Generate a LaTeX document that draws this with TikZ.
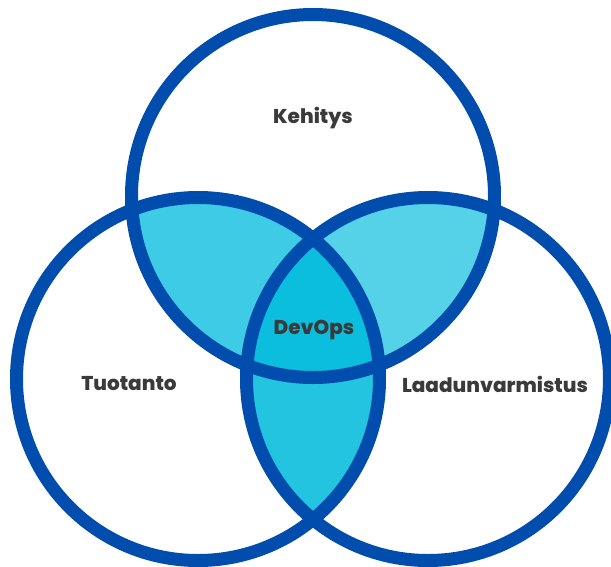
\documentclass[tikz,border=0pt]{standalone}
\usepackage{fontspec}
\setmainfont{Poppins}[BoldFont = * ExtraBold]
\definecolor{ringblue}{HTML}{004DAD}
\definecolor{lensTL}{HTML}{3ECBE5}
\definecolor{lensTR}{HTML}{56D2E8}
\definecolor{lensB}{HTML}{22C4E0}
\definecolor{core}{HTML}{0CBEDE}
\definecolor{labelgray}{HTML}{3A3A3A}
\tikzset{
  ring/.style={draw=ringblue, line width=13pt},
  setlabel/.style={text=labelgray, font=\bfseries\fontsize{20}{24}\selectfont, inner sep=0pt}
}
\begin{document}
\begin{tikzpicture}[x=1pt,y=-1pt]
\useasboundingbox (0,0) rectangle (611,566);
\fill[white] (0,0) rectangle (611,566);
% circle centres
\coordinate (ct) at (313,196);
\coordinate (cl) at (198,379);
\coordinate (cr) at (428,379);
\def\R{181.5pt}
% pairwise overlaps
\begin{scope}
  \clip (ct) circle[radius=\R];
  \fill[lensTL] (cl) circle[radius=\R];
  \fill[lensTR] (cr) circle[radius=\R];
\end{scope}
\begin{scope}
  \clip (cl) circle[radius=\R];
  \fill[lensB] (cr) circle[radius=\R];
\end{scope}
% triple overlap
\begin{scope}
  \clip (ct) circle[radius=\R];
  \clip (cl) circle[radius=\R];
  \fill[core] (cr) circle[radius=\R];
\end{scope}
% outlines
\draw[ring] (ct) circle[radius=\R];
\draw[ring] (cl) circle[radius=\R];
\draw[ring] (cr) circle[radius=\R];
% labels
\node[setlabel] (kehitys) at (313,118) {Kehitys};
\node[setlabel] (devops) at (314,330) {DevOps};
\node[setlabel] (tuotanto) at (129,384) {Tuotanto};
\node[setlabel] (laatu) at (495,384) {Laadunvarmistus};
\end{tikzpicture}
\end{document}
